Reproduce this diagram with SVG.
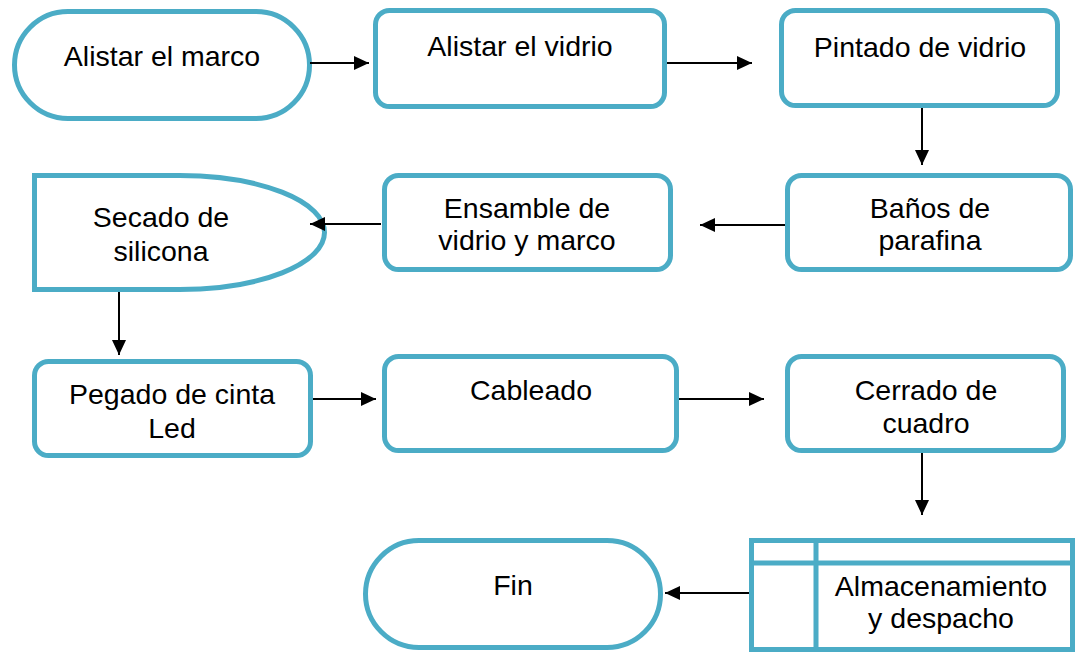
<svg xmlns="http://www.w3.org/2000/svg" width="1077" height="652" viewBox="0 0 1077 652">
<style>
.n{fill:#ffffff;stroke:#4bacc6;stroke-width:5}
.t{font-family:"Liberation Sans",Arial,sans-serif;font-size:28.5px;fill:#000000;text-anchor:middle}
.c{stroke:#000000;stroke-width:2;fill:none;marker-end:url(#ah)}
</style>
<defs>
<marker id="ah" viewBox="0 0 15 14" refX="15" refY="7" markerWidth="15" markerHeight="14" markerUnits="userSpaceOnUse" orient="auto">
<path d="M0,0 L15,7 L0,14 Z" fill="#000000"/>
</marker>
</defs>
<rect width="1077" height="652" fill="#ffffff"/>
<g id="n1">
<rect class="n" x="14.5" y="11.5" width="295" height="107" rx="53.5" ry="53.5"/>
<text class="t" x="162" y="66">Alistar el marco</text>
</g>
<g id="n2">
<rect class="n" x="375.5" y="10.5" width="289" height="96" rx="14"/>
<text class="t" x="520" y="56">Alistar el vidrio</text>
</g>
<g id="n3">
<rect class="n" x="781.5" y="10.5" width="276" height="95" rx="14"/>
<text class="t" x="920" y="57">Pintado de vidrio</text>
</g>
<g id="n4">
<rect class="n" x="787.5" y="175.5" width="283" height="94" rx="14"/>
<text class="t" x="930" y="218">Baños de</text>
<text class="t" x="930" y="250">parafina</text>
</g>
<g id="n5">
<rect class="n" x="384.5" y="175.5" width="286" height="94" rx="14"/>
<text class="t" x="527" y="218">Ensamble de</text>
<text class="t" x="527" y="250">vidrio y marco</text>
</g>
<g id="n6">
<path class="n" d="M34.5,175.5 H179.5 A145,57 0 0 1 324.5,232.5 A145,57 0 0 1 179.5,289.5 H34.5 Z"/>
<text class="t" x="161" y="227">Secado de</text>
<text class="t" x="161" y="261">silicona</text>
</g>
<g id="n7">
<rect class="n" x="34.5" y="361.5" width="276" height="94" rx="14"/>
<text class="t" x="172" y="404">Pegado de cinta</text>
<text class="t" x="172" y="438">Led</text>
</g>
<g id="n8">
<rect class="n" x="384.5" y="356.5" width="292" height="94" rx="14"/>
<text class="t" x="531" y="400">Cableado</text>
</g>
<g id="n9">
<rect class="n" x="787.5" y="356.5" width="276" height="94" rx="14"/>
<text class="t" x="926" y="400">Cerrado de</text>
<text class="t" x="926" y="433">cuadro</text>
</g>
<g id="n10">
<rect class="n" x="751.5" y="540.5" width="321" height="109"/>
<path class="n" d="M751.5,563 H1072.5 M816,540.5 V649.5"/>
<text class="t" x="941" y="596">Almacenamiento</text>
<text class="t" x="941" y="628">y despacho</text>
</g>
<g id="n11">
<rect class="n" x="365.5" y="540.5" width="295" height="107" rx="53.5" ry="53.5"/>
<text class="t" x="513" y="595">Fin</text>
</g>
<g id="connectors">
<path class="c" d="M310,63 H369"/>
<path class="c" d="M667,63 H752"/>
<path class="c" d="M922,108 V165"/>
<path class="c" d="M785,225 H700"/>
<path class="c" d="M381,224 H310"/>
<path class="c" d="M119,292 V355"/>
<path class="c" d="M313,399 H376"/>
<path class="c" d="M679,399 H764"/>
<path class="c" d="M922,453 V515"/>
<path class="c" d="M749,593 H665"/>
</g>
</svg>
